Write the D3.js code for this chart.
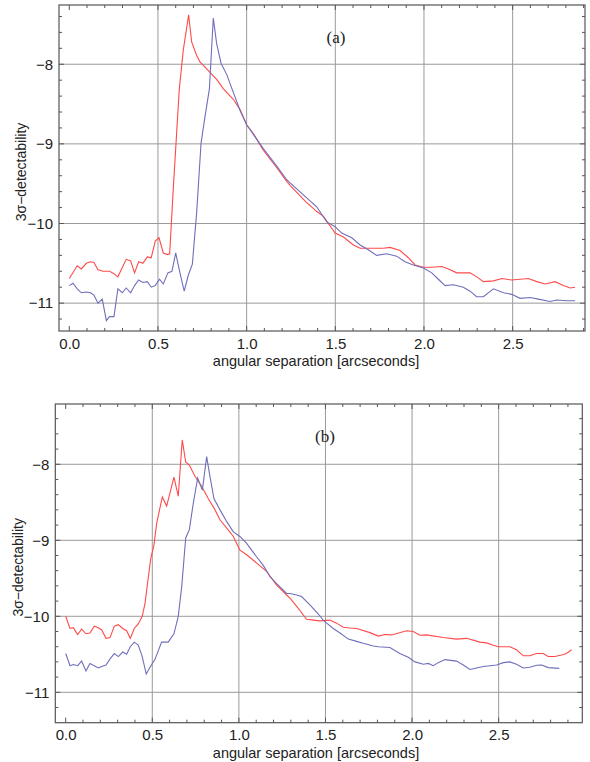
<!DOCTYPE html>
<meta charset="utf-8">
<html>
<head>
<script src="https://d3js.org/d3.v7.min.js"></script>
<style>
  body { margin: 0; background: #fff; }
  text { font-family: "Liberation Sans", Arial, sans-serif; fill: #222; }
</style>
</head>
<body>
<div id="chart"></div>
<script>
// ---- data: [angular separation, 3 sigma detectability] ----
var xTicks = [0.0, 0.5, 1.0, 1.5, 2.0, 2.5];
var yTicks = [-8, -9, -10, -11];

var redA = [[0,-10.69],[0.045,-10.53],[0.068,-10.57],[0.096,-10.50],[0.12,-10.48],[0.139,-10.49],[0.162,-10.58],
  [0.19,-10.60],[0.227,-10.60],[0.252,-10.63],[0.274,-10.67],[0.321,-10.45],[0.346,-10.47],[0.368,-10.62],
  [0.391,-10.48],[0.415,-10.50],[0.44,-10.42],[0.462,-10.43],[0.485,-10.22],[0.506,-10.18],[0.53,-10.37],
  [0.553,-10.39],[0.566,-10.38],[0.587,-9.54],[0.62,-8.32],[0.643,-7.82],[0.673,-7.38],[0.69,-7.72],[0.718,-7.89],
  [0.737,-7.97],[0.784,-8.08],[0.831,-8.19],[0.869,-8.31],[0.925,-8.44],[0.963,-8.57],[1.0,-8.76],[1.038,-8.87],
  [1.094,-9.08],[1.17,-9.30],[1.226,-9.47],[1.245,-9.52],[1.33,-9.72],[1.396,-9.85],[1.433,-9.91],[1.499,-10.12],
  [1.546,-10.17],[1.602,-10.27],[1.64,-10.31],[1.696,-10.31],[1.771,-10.31],[1.809,-10.30],[1.865,-10.34],
  [1.912,-10.43],[1.95,-10.52],[1.997,-10.55],[2.044,-10.55],[2.10,-10.54],[2.138,-10.57],[2.185,-10.62],
  [2.26,-10.62],[2.298,-10.67],[2.335,-10.73],[2.392,-10.72],[2.439,-10.69],[2.495,-10.71],[2.542,-10.70],
  [2.589,-10.69],[2.636,-10.73],[2.683,-10.76],[2.739,-10.73],[2.786,-10.78],[2.824,-10.81],[2.852,-10.80]];

var blueA = [[0,-10.78],[0.021,-10.75],[0.045,-10.82],[0.068,-10.87],[0.096,-10.86],[0.12,-10.87],[0.139,-10.90],
  [0.162,-11.0],[0.186,-10.95],[0.209,-11.22],[0.227,-11.17],[0.252,-11.17],[0.274,-10.82],[0.299,-10.87],
  [0.321,-10.81],[0.346,-10.87],[0.368,-10.78],[0.391,-10.71],[0.415,-10.74],[0.44,-10.73],[0.462,-10.80],
  [0.485,-10.78],[0.509,-10.70],[0.53,-10.76],[0.556,-10.62],[0.579,-10.60],[0.60,-10.37],[0.624,-10.62],
  [0.648,-10.85],[0.671,-10.65],[0.694,-10.51],[0.718,-9.87],[0.743,-8.99],[0.765,-8.66],[0.79,-8.31],
  [0.812,-7.42],[0.831,-7.74],[0.856,-7.99],[0.888,-8.13],[0.916,-8.30],[0.963,-8.58],[1.0,-8.76],[1.094,-9.06],
  [1.17,-9.28],[1.226,-9.45],[1.245,-9.49],[1.32,-9.64],[1.395,-9.79],[1.452,-9.98],[1.499,-10.04],[1.536,-10.12],
  [1.593,-10.18],[1.64,-10.27],[1.686,-10.33],[1.733,-10.40],[1.79,-10.38],[1.846,-10.41],[1.893,-10.48],
  [1.94,-10.52],[1.997,-10.56],[2.044,-10.62],[2.081,-10.70],[2.119,-10.78],[2.166,-10.77],[2.222,-10.80],
  [2.26,-10.85],[2.297,-10.92],[2.335,-10.92],[2.392,-10.82],[2.448,-10.87],[2.495,-10.89],[2.542,-10.94],
  [2.598,-10.93],[2.645,-10.95],[2.711,-10.98],[2.748,-10.96],[2.805,-10.97],[2.852,-10.97]];

var redB = [[0,-10.0],[0.025,-10.16],[0.044,-10.15],[0.069,-10.24],[0.092,-10.17],[0.117,-10.23],[0.14,-10.22],
  [0.165,-10.13],[0.188,-10.15],[0.208,-10.18],[0.233,-10.29],[0.256,-10.28],[0.281,-10.13],[0.304,-10.11],
  [0.329,-10.16],[0.352,-10.19],[0.373,-10.29],[0.396,-10.16],[0.419,-10.10],[0.442,-10.0],[0.458,-9.83],
  [0.468,-9.65],[0.491,-9.24],[0.51,-9.06],[0.525,-8.78],[0.54,-8.62],[0.558,-8.43],[0.583,-8.55],[0.602,-8.38],
  [0.625,-8.17],[0.65,-8.42],[0.673,-7.68],[0.693,-7.97],[0.714,-8.01],[0.747,-8.16],[0.785,-8.29],[0.823,-8.45],
  [0.862,-8.60],[0.891,-8.73],[0.93,-8.84],[0.968,-8.95],[1.006,-9.13],[1.045,-9.19],[1.103,-9.30],[1.16,-9.41],
  [1.218,-9.59],[1.276,-9.72],[1.295,-9.76],[1.334,-9.87],[1.391,-10.04],[1.43,-10.05],[1.468,-10.06],
  [1.526,-10.05],[1.564,-10.09],[1.603,-10.145],[1.641,-10.155],[1.68,-10.16],[1.757,-10.215],[1.805,-10.26],
  [1.843,-10.24],[1.882,-10.245],[1.968,-10.19],[2.007,-10.20],[2.045,-10.25],[2.084,-10.245],[2.18,-10.28],
  [2.257,-10.30],[2.315,-10.29],[2.392,-10.34],[2.43,-10.35],[2.469,-10.38],[2.498,-10.40],[2.565,-10.40],
  [2.603,-10.44],[2.642,-10.52],[2.68,-10.52],[2.719,-10.49],[2.757,-10.49],[2.786,-10.53],[2.825,-10.53],
  [2.864,-10.51],[2.892,-10.49],[2.921,-10.44]];

var blueB = [[0,-10.49],[0.025,-10.65],[0.044,-10.635],[0.069,-10.65],[0.092,-10.59],[0.117,-10.72],[0.14,-10.62],
  [0.165,-10.65],[0.188,-10.68],[0.208,-10.66],[0.233,-10.64],[0.256,-10.56],[0.281,-10.49],[0.304,-10.53],
  [0.329,-10.47],[0.352,-10.50],[0.373,-10.40],[0.396,-10.34],[0.419,-10.38],[0.442,-10.53],[0.465,-10.76],
  [0.487,-10.67],[0.515,-10.57],[0.554,-10.34],[0.592,-10.34],[0.625,-10.23],[0.65,-10.0],[0.67,-9.61],
  [0.693,-8.97],[0.714,-8.86],[0.737,-8.51],[0.762,-8.18],[0.789,-8.34],[0.814,-7.90],[0.833,-8.16],[0.856,-8.45],
  [0.891,-8.60],[0.93,-8.755],[0.968,-8.89],[1.006,-8.95],[1.045,-9.04],[1.103,-9.22],[1.141,-9.33],[1.18,-9.48],
  [1.218,-9.57],[1.276,-9.70],[1.295,-9.70],[1.334,-9.72],[1.362,-9.74],[1.41,-9.85],[1.459,-9.97],[1.487,-10.05],
  [1.507,-10.09],[1.545,-10.16],[1.584,-10.22],[1.632,-10.30],[1.68,-10.33],[1.718,-10.355],[1.776,-10.39],
  [1.805,-10.40],[1.872,-10.41],[1.93,-10.49],[1.978,-10.54],[2.017,-10.60],[2.065,-10.63],[2.094,-10.62],
  [2.122,-10.65],[2.151,-10.61],[2.19,-10.57],[2.257,-10.59],[2.296,-10.64],[2.334,-10.70],[2.373,-10.68],
  [2.411,-10.66],[2.45,-10.65],[2.488,-10.64],[2.527,-10.61],[2.565,-10.60],[2.603,-10.63],[2.642,-10.68],
  [2.68,-10.67],[2.719,-10.645],[2.748,-10.64],[2.786,-10.675],[2.85,-10.685]];

var redColor = "#ff4a4a", blueColor = "#6f6fbb";

var svg = d3.select("#chart").append("svg")
  .attr("width", 590)
  .attr("height", 762);

// one framed panel
function drawPanel(p) {
  var x = d3.scaleLinear().domain(p.xDomain).range([p.left, p.right]);
  var y = d3.scaleLinear().domain(p.yDomain).range([p.bottom, p.top]);
  var g = svg.append("g");

  g.append("clipPath").attr("id", "clip" + p.id)
    .append("rect")
      .attr("x", p.left).attr("y", p.top)
      .attr("width", p.right - p.left).attr("height", p.bottom - p.top);

  // grid
  g.selectAll(".vgrid").data(xTicks.filter(function(d) { return d > 0; }))
    .enter().append("line")
      .attr("x1", function(d) { return x(d); }).attr("x2", function(d) { return x(d); })
      .attr("y1", p.top).attr("y2", p.bottom)
      .style("stroke", "#9a9a9a").style("stroke-width", 1);
  g.selectAll(".hgrid").data(yTicks)
    .enter().append("line")
      .attr("x1", p.left).attr("x2", p.right)
      .attr("y1", function(d) { return y(d); }).attr("y2", function(d) { return y(d); })
      .style("stroke", "#9a9a9a").style("stroke-width", 1);

  // minor ticks on all four sides
  var xMinor = d3.range(0, p.xDomain[1], 0.1);
  var yMinor = d3.range(-11.2, p.yDomain[1], 0.2).filter(function(d) { return d > p.yDomain[0]; });
  xMinor.forEach(function(v) {
    var len = Math.abs(v * 2 - Math.round(v * 2)) < 1e-6 ? 5 : 3;
    g.append("line").attr("x1", x(v)).attr("x2", x(v)).attr("y1", p.bottom).attr("y2", p.bottom - len)
      .style("stroke", "#555");
    g.append("line").attr("x1", x(v)).attr("x2", x(v)).attr("y1", p.top).attr("y2", p.top + len)
      .style("stroke", "#555");
  });
  yMinor.forEach(function(v) {
    var len = Math.abs(v - Math.round(v)) < 1e-6 ? 5 : 3;
    g.append("line").attr("x1", p.left).attr("x2", p.left + len).attr("y1", y(v)).attr("y2", y(v))
      .style("stroke", "#555");
    g.append("line").attr("x1", p.right).attr("x2", p.right - len).attr("y1", y(v)).attr("y2", y(v))
      .style("stroke", "#555");
  });

  // curves
  var line = d3.line().x(function(d) { return x(d[0]); }).y(function(d) { return y(d[1]); });
  g.append("path").datum(p.red)
    .attr("d", line).attr("clip-path", "url(#clip" + p.id + ")")
    .style("fill", "none").style("stroke", redColor).style("stroke-width", 1.1);
  g.append("path").datum(p.blue)
    .attr("d", line).attr("clip-path", "url(#clip" + p.id + ")")
    .style("fill", "none").style("stroke", blueColor).style("stroke-width", 1.1);

  // frame
  g.append("rect")
    .attr("x", p.left).attr("y", p.top)
    .attr("width", p.right - p.left).attr("height", p.bottom - p.top)
    .style("fill", "none").style("stroke", "#555").style("stroke-width", 1.2);

  // tick labels
  var xa = g.append("g")
    .attr("transform", "translate(0," + (p.bottom + 4) + ")")
    .call(d3.axisBottom(x).tickValues(xTicks).tickSize(0).tickFormat(d3.format(".1f")));
  xa.select(".domain").remove();
  xa.selectAll("text").style("font-size", "15px").attr("fill", "#222")
    .style("font-family", "Liberation Sans, Arial, sans-serif");

  var ya = g.append("g")
    .attr("transform", "translate(" + (p.left - 3) + ",0)")
    .call(d3.axisLeft(y).tickValues(yTicks).tickSize(0).tickFormat(d3.format("d")));
  ya.select(".domain").remove();
  ya.selectAll("text").style("font-size", "15px").attr("fill", "#222")
    .style("font-family", "Liberation Sans, Arial, sans-serif");

  // titles
  g.append("text")
    .attr("x", 316).attr("y", p.bottom + 35)
    .attr("text-anchor", "middle")
    .style("font-size", "14.5px")
    .text("angular separation [arcseconds]");

  g.append("text")
    .attr("transform", "translate(" + p.yTitleX + "," + ((p.top + p.bottom) / 2 + 4) + ") rotate(-90)")
    .attr("text-anchor", "middle")
    .style("font-size", "14px")
    .text("3σ−detectability");

  g.append("text")
    .attr("x", p.labelX).attr("y", p.top + 38)
    .attr("text-anchor", "middle")
    .style("font-family", "Liberation Serif, Times New Roman, serif")
    .style("font-size", "17px")
    .text(p.label);
}

drawPanel({id: "a", label: "(a)", left: 59, right: 585, top: 5, bottom: 331,
  xDomain: [-0.058, 2.908], yDomain: [-11.35, -7.256], yTitleX: 26, labelX: 336,
  red: redA, blue: blueA});

drawPanel({id: "b", label: "(b)", left: 55.3, right: 582.3, top: 404, bottom: 722.7,
  xDomain: [-0.06, 2.983], yDomain: [-11.4, -7.207], yTitleX: 23, labelX: 325,
  red: redB, blue: blueB});
</script>
</body>
</html>
